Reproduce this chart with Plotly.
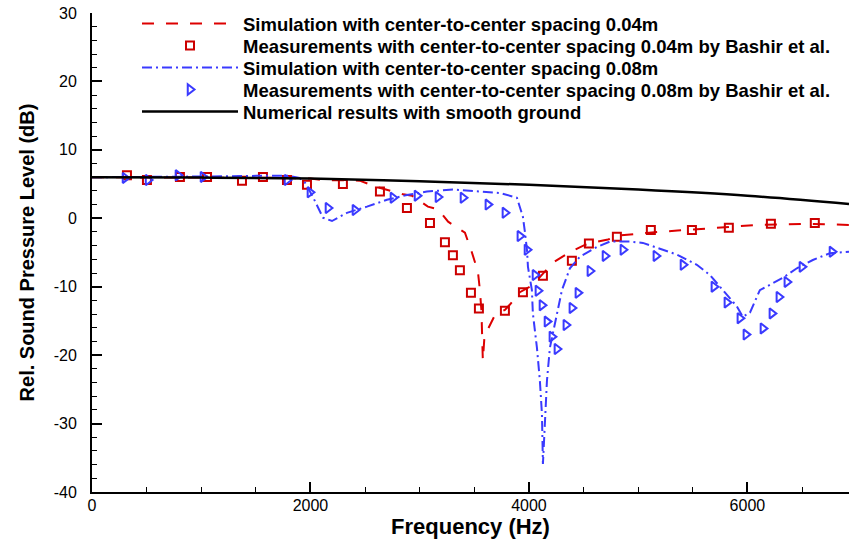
import plotly.graph_objects as go

# ---------------- data ----------------
smooth_f = [0, 1000, 2000, 3000, 4000, 5000, 6000, 6930]
smooth_L = [6.0, 5.95, 5.8, 5.4, 4.9, 4.2, 3.3, 2.1]

red_sim_f = [0, 500, 1000, 1500, 1800, 2000, 2100, 2450, 2600, 2850, 2930, 3075, 3170, 3260,
             3350, 3414, 3478, 3533, 3551, 3565, 3578, 3592, 3615, 3690, 3780, 3826, 3917,
             4009, 4100, 4219, 4357, 4512, 4604, 4723, 4833, 4943, 5100, 5360, 5610, 5850,
             6090, 6300, 6540, 6750, 6930]
red_sim_L = [6.0, 6.0, 6.0, 6.0, 5.9, 5.8, 5.6, 5.5, 4.6, 3.5, 3.3, 1.7, 1.3, -0.5,
             -1.4, -2.1, -5.0, -7.8, -10.5, -13.5, -20.8, -17.5, -16.5, -14.1, -13.4, -12.6, -10.8,
             -10.0, -8.6, -6.5, -5.1, -3.9, -3.5, -3.1, -2.5, -2.3, -2.1, -1.8, -1.5, -1.2,
             -0.97, -0.9, -0.8, -0.9, -0.97]

red_meas_f = [320, 503, 805, 1053, 1373, 1565, 1785, 1968, 2297, 2636, 2883, 3094, 3231, 3304,
              3368, 3469, 3542, 3780, 3945, 4128, 4393, 4549, 4805, 5116, 5492, 5830, 6215, 6617]
red_meas_L = [6.3, 5.6, 6.05, 6.05, 5.5, 6.05, 5.6, 4.9, 5.0, 3.9, 1.5, -0.7, -3.5, -5.4,
              -7.6, -10.9, -13.2, -13.5, -10.8, -8.4, -6.2, -3.7, -2.7, -1.7, -1.7, -1.4, -0.8, -0.7]

blue_sim_f = [0, 500, 1000, 1500, 1800, 1900, 1950, 2023, 2114, 2197, 2334, 2517, 2700, 2883,
              3066, 3304, 3551, 3734, 3890, 3945, 3963, 3982, 3991, 4027, 4036, 4073, 4100,
              4119, 4128, 4150, 4165, 4192, 4238, 4302, 4375, 4467, 4622, 4741, 4924, 5043,
              5226, 5354, 5537, 5657, 5776, 5904, 5958, 6023, 6114, 6206, 6325, 6453, 6599,
              6755, 6930]
blue_sim_L = [6.0, 6.0, 6.1, 6.2, 6.2, 5.9, 5.2, 3.1, 0.1, -0.4, 0.8, 1.7, 2.7, 3.4,
              3.9, 4.2, 3.9, 3.7, 3.0, 0.2, -2.0, -4.6, -7.1, -10.5, -13.9, -18.9, -23.7,
              -28.6, -35.9, -29.0, -23.7, -18.9, -15.4, -10.5, -7.3, -5.6, -4.2, -3.4, -3.4, -3.6,
              -4.6, -5.3, -6.8, -8.3, -10.5, -12.9, -14.4, -13.8, -10.5, -9.7, -8.7, -7.3, -6.1,
              -5.1, -4.9]

blue_meas_f = [302, 513, 787, 1016, 1785, 1995, 2160, 2407, 2755, 2975, 3167, 3396, 3624, 3780,
               3917, 3982, 4055, 4082, 4119, 4165, 4210, 4256, 4338, 4393, 4448, 4558, 4696,
               4860, 5162, 5410, 5693, 5812, 5931, 5986, 6142, 6224, 6288, 6361, 6499, 6774]
blue_meas_L = [5.9, 5.6, 6.3, 6.05, 5.6, 3.8, 1.5, 1.2, 3.0, 3.3, 3.1, 3.0, 2.0, 0.8,
               -2.6, -4.6, -8.3, -10.6, -12.7, -15.1, -17.3, -19.1, -15.6, -13.1, -10.9, -7.7, -5.5,
               -4.6, -5.5, -6.8, -10.0, -12.3, -14.6, -17.0, -16.1, -13.9, -11.5, -9.3, -7.1, -4.9]

x_tickvals = [0, 2000, 4000, 6000]
x_ticktext = ["0", "2000", "4000", "6000"]
y_tickvals = [-40, -30, -20, -10, 0, 10, 20, 30]
y_ticktext = ["-40", "-30", "-20", "-10", "0", "10", "20", "30"]

names = [
    "Simulation with center-to-center spacing 0.04m",
    "Measurements with center-to-center spacing 0.04m by Bashir et al.",
    "Simulation with center-to-center spacing 0.08m",
    "Measurements with center-to-center spacing 0.08m by Bashir et al.",
    "Numerical results with smooth ground",
]

RED = "#dd0000"
BLUE = "#3a3aff"
FONT = "Liberation Sans"

# plot area in pixels (for placing the legend rows)
L_M, T_M, B_M, H = 92, 13, 49, 541
PH = H - T_M - B_M
legend_rows_px = [24, 46, 68, 90, 112]
legend_left_px = 137

fig = go.Figure()
fig.add_trace(go.Scatter(x=red_sim_f, y=red_sim_L, mode="lines", name=names[0], legend="legend",
                         line=dict(color=RED, width=2, dash="12px,12px")))
fig.add_trace(go.Scatter(x=red_meas_f, y=red_meas_L, mode="markers", name=names[1], legend="legend2",
                         marker=dict(symbol="square-open", size=8, color="#cc0000",
                                     line=dict(width=2, color="#cc0000"))))
fig.add_trace(go.Scatter(x=blue_sim_f, y=blue_sim_L, mode="lines", name=names[2], legend="legend3",
                         line=dict(color=BLUE, width=2, dash="10px,4px,2px,4px")))
fig.add_trace(go.Scatter(x=blue_meas_f, y=blue_meas_L, mode="markers", name=names[3], legend="legend4",
                         marker=dict(symbol="triangle-right-open", size=9, color=BLUE,
                                     line=dict(width=2, color=BLUE))))
fig.add_trace(go.Scatter(x=smooth_f, y=smooth_L, mode="lines", name=names[4], legend="legend5",
                         line=dict(color="black", width=2.5, shape="spline")))

legend_common = dict(xanchor="left", yanchor="middle", bgcolor="rgba(0,0,0,0)", borderwidth=0,
                     font=dict(family=FONT, size=18.5, color="black", weight="bold"),
                     itemwidth=96)
legend_layout = {}
for i, ypx in enumerate(legend_rows_px):
    key = "legend" if i == 0 else f"legend{i + 1}"
    legend_layout[key] = dict(legend_common,
                              x=(legend_left_px - L_M) / (849 - L_M),
                              y=(H - B_M - ypx) / PH)

fig.update_layout(
    width=849, height=541,
    margin=dict(l=L_M, r=0, t=T_M, b=B_M),
    paper_bgcolor="white", plot_bgcolor="white",
    font=dict(family=FONT, color="black", size=16),
    showlegend=True,
    **legend_layout,
    xaxis=dict(range=[0, 6930], tickvals=x_tickvals, ticktext=x_ticktext,
               ticks="inside", ticklen=10, tickwidth=2, tickcolor="black",
               showline=True, linewidth=2, linecolor="black", showgrid=False, zeroline=False,
               minor=dict(dtick=500, ticks="inside", ticklen=5, tickwidth=1, tickcolor="black"),
               tickfont=dict(size=16), ticklabelstandoff=-2,
               title=dict(text="Frequency (Hz)", standoff=0,
                          font=dict(size=22, weight="bold"))),
    yaxis=dict(range=[-40, 30], tickvals=y_tickvals, ticktext=y_ticktext,
               ticks="inside", ticklen=10, tickwidth=2, tickcolor="black",
               showline=True, linewidth=2, linecolor="black", showgrid=False, zeroline=False,
               minor=dict(dtick=2, ticks="inside", ticklen=5, tickwidth=1, tickcolor="black"),
               tickfont=dict(size=16), ticklabelstandoff=10,
               title=dict(text="Rel. Sound Pressure Level (dB)", standoff=14,
                          font=dict(size=20, weight="bold"))),
)

fig.write_html("out.html")
